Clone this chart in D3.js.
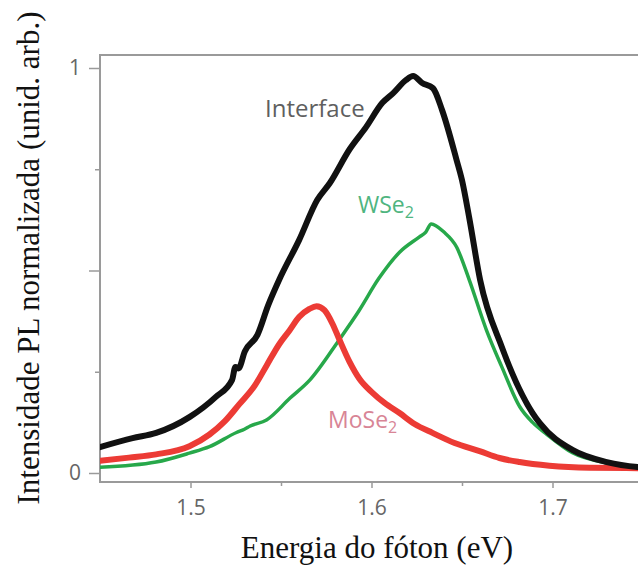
<!DOCTYPE html>
<html>
<head>
<meta charset="utf-8">
<script src="https://cdn.jsdelivr.net/npm/d3@7"></script>
<style>
  html, body { margin: 0; padding: 0; background: #fff; }
  svg { display: block; }
</style>
</head>
<body>
<svg id="chart" width="638" height="576"></svg>
<script>
// Photoluminescence spectra (normalized) of the MoSe2/WSe2 heterostructure
const energyInterface = [1.450, 1.468, 1.481, 1.4994, 1.514, 1.523, 1.5248, 1.5265, 1.530, 1.537, 1.543, 1.549, 1.560, 1.570, 1.577, 1.588, 1.597, 1.606, 1.612, 1.619, 1.623, 1.628, 1.634, 1.639, 1.647, 1.650, 1.654, 1.660, 1.672, 1.689, 1.693, 1.711, 1.730, 1.747, 1.750];
const intensityInterface = [0.064, 0.086, 0.099, 0.138, 0.188, 0.230, 0.262, 0.258, 0.300, 0.341, 0.415, 0.477, 0.575, 0.674, 0.716, 0.800, 0.854, 0.914, 0.938, 0.970, 0.980, 0.963, 0.950, 0.896, 0.773, 0.723, 0.630, 0.477, 0.311, 0.148, 0.123, 0.057, 0.027, 0.015, 0.014];

const energyWSe2 = [1.450, 1.481, 1.4994, 1.5105, 1.5254, 1.5298, 1.533, 1.542, 1.555, 1.566, 1.582, 1.593, 1.604, 1.6155, 1.6265, 1.630, 1.633, 1.640, 1.647, 1.654, 1.6635, 1.672, 1.682, 1.689, 1.697, 1.711, 1.730, 1.747, 1.750];
const intensityWSe2 = [0.014, 0.027, 0.049, 0.065, 0.100, 0.108, 0.116, 0.131, 0.185, 0.230, 0.328, 0.400, 0.480, 0.545, 0.583, 0.595, 0.615, 0.595, 0.558, 0.477, 0.353, 0.262, 0.163, 0.125, 0.095, 0.050, 0.025, 0.016, 0.015];

const energyMoSe2 = [1.450, 1.466, 1.481, 1.4994, 1.5105, 1.519, 1.527, 1.5354, 1.542, 1.549, 1.5547, 1.560, 1.5657, 1.5696, 1.574, 1.5785, 1.582, 1.5878, 1.5934, 1.6006, 1.6072, 1.6155, 1.6238, 1.6337, 1.6459, 1.6597, 1.6707, 1.6818, 1.6983, 1.7204, 1.747, 1.750];
const intensityMoSe2 = [0.030, 0.038, 0.046, 0.066, 0.095, 0.128, 0.170, 0.215, 0.265, 0.318, 0.352, 0.385, 0.405, 0.412, 0.402, 0.368, 0.332, 0.275, 0.232, 0.198, 0.173, 0.148, 0.121, 0.099, 0.074, 0.054, 0.037, 0.027, 0.018, 0.013, 0.012, 0.012];

const xMajorTicks = [1.5, 1.6, 1.7];
const xMinorTicks = [1.55, 1.65, 1.75];
const yMajorTicks = [0, 0.5, 1];
const yMinorTicks = [0.25, 0.75];
const yTickLabels = { 0: "0", 1: "1" };

const svg = d3.select("#chart");

const plotLeft = 100, plotRight = 643, plotTop = 55, plotBottom = 482;
const x = d3.scaleLinear().domain([1.45, 1.75]).range([plotLeft, plotRight]);
const y = d3.scaleLinear().domain([0, 1]).range([473, 68]);

const axisColor = "#9a9a9a";
const labelColor = "#666";
const sans = "'Open Sans', sans-serif";
const serif = "'Liberation Serif', 'Times New Roman', serif";

// plot clip
svg.append("defs").append("clipPath").attr("id", "plot")
  .append("rect").attr("x", plotLeft).attr("y", plotTop)
  .attr("width", plotRight - plotLeft).attr("height", plotBottom - plotTop);

// frame: top, left and bottom edges
svg.append("path")
  .attr("d", `M${plotRight},${plotTop}H${plotLeft}V${plotBottom}H${plotRight}`)
  .attr("fill", "none").attr("stroke", axisColor).attr("stroke-width", 2);

// x axis ticks
const gx = svg.append("g").attr("transform", `translate(0,${plotBottom})`)
  .call(d3.axisBottom(x).tickValues(xMajorTicks).tickSize(6).tickPadding(12).tickFormat(d3.format(".1f")));
gx.select(".domain").remove();
gx.selectAll("line").attr("stroke", axisColor).attr("stroke-width", 1.5);
gx.selectAll("text").attr("fill", labelColor).attr("font-family", sans).attr("font-size", 21);

const gxm = svg.append("g").attr("transform", `translate(0,${plotBottom})`)
  .call(d3.axisBottom(x).tickValues(xMinorTicks).tickSize(4).tickFormat(""));
gxm.select(".domain").remove();
gxm.selectAll("line").attr("stroke", axisColor).attr("stroke-width", 1.5);

// y axis ticks
const gy = svg.append("g").attr("transform", `translate(${plotLeft},0)`)
  .call(d3.axisLeft(y).tickValues(yMajorTicks).tickSize(11).tickPadding(8).tickFormat(d => yTickLabels[d] || ""));
gy.select(".domain").remove();
gy.selectAll("line").attr("stroke", axisColor).attr("stroke-width", 1.5);
gy.selectAll("text").attr("fill", labelColor).attr("font-family", sans).attr("font-size", 21);

const gym = svg.append("g").attr("transform", `translate(${plotLeft},0)`)
  .call(d3.axisLeft(y).tickValues(yMinorTicks).tickSize(5).tickFormat(""));
gym.select(".domain").remove();
gym.selectAll("line").attr("stroke", axisColor).attr("stroke-width", 1.5);

// spectra
const line = d3.line().x(d => x(d[0])).y(d => y(d[1])).curve(d3.curveMonotoneX);
const plot = svg.append("g").attr("clip-path", "url(#plot)");

const series = [
  { e: energyWSe2, v: intensityWSe2, color: "#27a84a", width: 3.5 },
  { e: energyMoSe2, v: intensityMoSe2, color: "#ec3b35", width: 6 },
  { e: energyInterface, v: intensityInterface, color: "#111111", width: 6 }
];
series.forEach(s => {
  plot.append("path")
    .datum(d3.zip(s.e, s.v))
    .attr("d", line)
    .attr("fill", "none")
    .attr("stroke", s.color)
    .attr("stroke-width", s.width)
    .attr("stroke-linejoin", "round")
    .attr("stroke-linecap", "round");
});

// curve labels
svg.append("text").attr("x", 265).attr("y", 117)
  .attr("font-family", sans).attr("font-size", 24).attr("fill", "#5f5f5f")
  .text("Interface");

const w = svg.append("text").attr("x", 358).attr("y", 213)
  .attr("font-family", sans).attr("font-size", 23).attr("fill", "#4fb57f");
w.append("tspan").text("WSe");
w.append("tspan").attr("font-size", 16).attr("dy", 5).text("2");

const m = svg.append("text").attr("x", 328).attr("y", 428)
  .attr("font-family", sans).attr("font-size", 23).attr("fill", "#d88596");
m.append("tspan").text("MoSe");
m.append("tspan").attr("font-size", 16).attr("dy", 5).text("2");

// axis titles
svg.append("text")
  .attr("x", 377).attr("y", 558)
  .attr("text-anchor", "middle")
  .attr("font-family", serif)
  .attr("font-size", 31).attr("fill", "#111")
  .text("Energia do fóton (eV)");

svg.append("text")
  .attr("transform", "translate(39,258) rotate(-90)")
  .attr("text-anchor", "middle")
  .attr("font-family", serif)
  .attr("font-size", 31).attr("fill", "#111")
  .text("Intensidade PL normalizada (unid. arb.)");
</script>
</body>
</html>
